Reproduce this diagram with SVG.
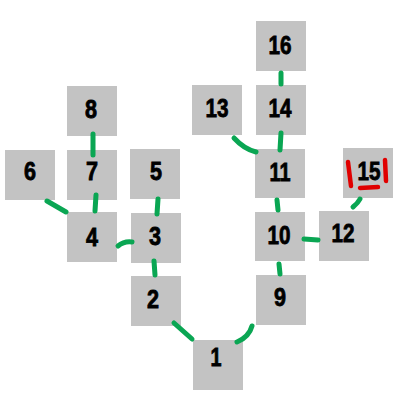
<svg xmlns="http://www.w3.org/2000/svg" width="400" height="400" viewBox="0 0 400 400">
<style>
.n rect{fill:#c3c3c3}
.n text{font-family:"Liberation Sans","DejaVu Sans",sans-serif;font-weight:bold;font-size:25px;fill:#000;stroke:#000;stroke-width:0.8;text-anchor:middle}
.e path{fill:none;stroke:#0aa653;stroke-width:5;stroke-linecap:round}
.r path{fill:none;stroke:#e00000;stroke-width:4.5;stroke-linecap:round}
</style>
<rect width="400" height="400" fill="#fff"/>
<g class="n" id="n16"><rect x="256" y="21" width="50" height="50"/><text x="280" y="54" textLength="23" lengthAdjust="spacingAndGlyphs">16</text></g>
<g class="n" id="n14"><rect x="256" y="85" width="50" height="50"/><text x="280" y="117" textLength="23" lengthAdjust="spacingAndGlyphs">14</text></g>
<g class="n" id="n13"><rect x="192" y="85" width="50" height="50"/><text x="217" y="117" textLength="23" lengthAdjust="spacingAndGlyphs">13</text></g>
<g class="n" id="n11"><rect x="255" y="149" width="50" height="49"/><text x="280" y="181" textLength="21" lengthAdjust="spacingAndGlyphs">11</text></g>
<g class="n" id="n15"><rect x="343" y="148" width="50" height="50"/><text x="369" y="180" textLength="23" lengthAdjust="spacingAndGlyphs">15</text></g>
<g class="n" id="n10"><rect x="255" y="212" width="50" height="49"/><text x="279" y="244" textLength="23" lengthAdjust="spacingAndGlyphs">10</text></g>
<g class="n" id="n12"><rect x="319" y="211" width="50" height="50"/><text x="343" y="242" textLength="23" lengthAdjust="spacingAndGlyphs">12</text></g>
<g class="n" id="n9"><rect x="256" y="275" width="50" height="50"/><text x="280" y="306" textLength="12" lengthAdjust="spacingAndGlyphs">9</text></g>
<g class="n" id="n1"><rect x="193" y="340" width="50" height="50"/><text x="216" y="366" textLength="11" lengthAdjust="spacingAndGlyphs">1</text></g>
<g class="n" id="n2"><rect x="131" y="276" width="50" height="50"/><text x="153" y="308" textLength="12" lengthAdjust="spacingAndGlyphs">2</text></g>
<g class="n" id="n3"><rect x="131" y="213" width="50" height="50"/><text x="155" y="245" textLength="12" lengthAdjust="spacingAndGlyphs">3</text></g>
<g class="n" id="n4"><rect x="67" y="212" width="50" height="50"/><text x="92" y="246" textLength="12" lengthAdjust="spacingAndGlyphs">4</text></g>
<g class="n" id="n5"><rect x="130" y="149" width="50" height="50"/><text x="156" y="180" textLength="12" lengthAdjust="spacingAndGlyphs">5</text></g>
<g class="n" id="n7"><rect x="67" y="150" width="50" height="50"/><text x="92" y="180" textLength="12" lengthAdjust="spacingAndGlyphs">7</text></g>
<g class="n" id="n6"><rect x="5" y="150" width="50" height="50"/><text x="30" y="180" textLength="12" lengthAdjust="spacingAndGlyphs">6</text></g>
<g class="n" id="n8"><rect x="67" y="86" width="50" height="50"/><text x="91" y="118" textLength="12" lengthAdjust="spacingAndGlyphs">8</text></g>
<g class="e" id="connectors">
<path d="M281 73 L281 84"/>
<path d="M281 133 L280 150"/>
<path d="M234 138 Q244 149 256 152"/>
<path d="M277 200 L278 210"/>
<path d="M304 239 L318 240"/>
<path d="M353 207 Q358 203 360 199"/>
<path d="M279 264 L280 274"/>
<path d="M252 326 Q249 337 237 342"/>
<path d="M174 323 L192 339"/>
<path d="M154 261 L155 275"/>
<path d="M158 199 L157 214"/>
<path d="M118 246 Q124 241 132 242"/>
<path d="M47 201 L66 212"/>
<path d="M96 195 L95 211"/>
<path d="M93 134 L93 155"/>
</g>
<g class="r" id="marks">
<path d="M348 162 L351 186"/>
<path d="M385 160 L386 181"/>
<path d="M360 188 L378 187"/>
</g>
</svg>
